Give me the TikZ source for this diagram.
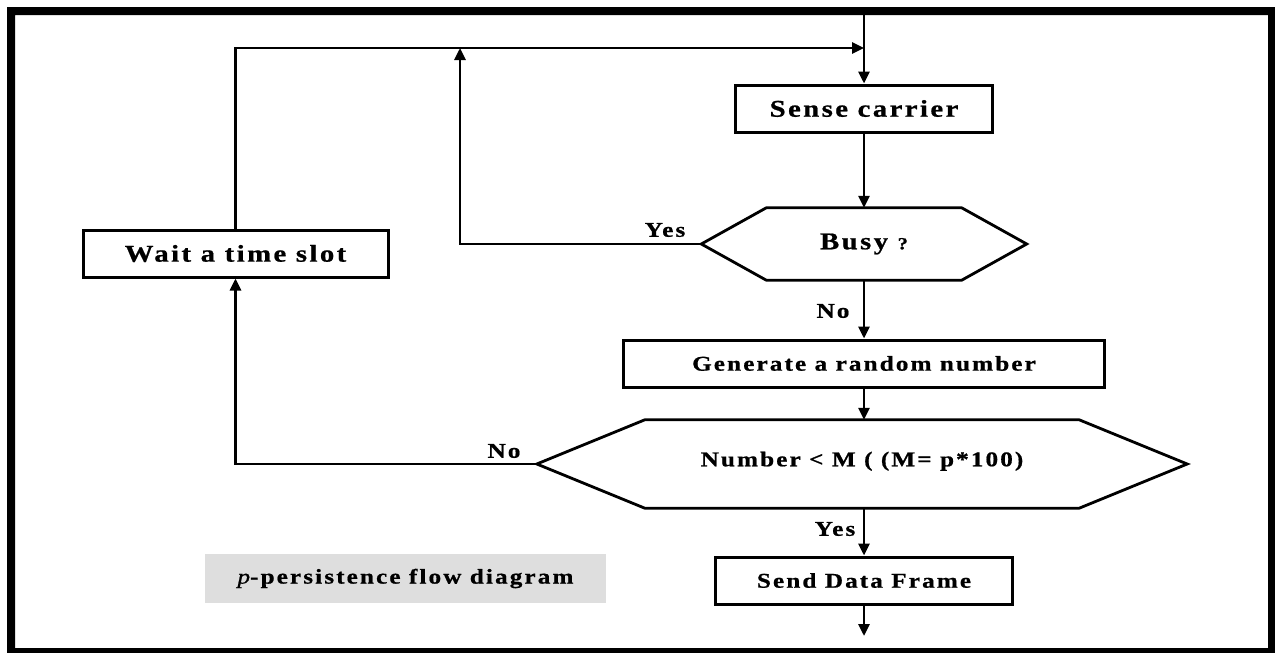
\documentclass[tikz,border=0pt]{standalone}
\usepackage{fontspec}
\setmainfont{Liberation Serif}
\newfontfamily\bigface[FakeStretch=1.2,LetterSpace=10,FakeBold=0.8]{Liberation Serif}
\newfontfamily\smallface[FakeStretch=1.2,LetterSpace=10,FakeBold=0.8]{Liberation Serif}
\usetikzlibrary{arrows.meta,calc}

\begin{document}
\begin{tikzpicture}[x=1pt,y=-1pt,
  flow/.style={line width=2.8pt,-{Triangle[length=12pt,width=11pt]}},
  procbox/.style={draw,line width=3pt,minimum height=47pt,inner sep=0pt},
  decision/.style={inner sep=0pt},
  hexline/.style={line width=2.8pt,line join=miter},
  bigtext/.style={font={\bigface\bfseries\fontsize{24}{28}\selectfont}},
  smalltext/.style={font={\smallface\bfseries\fontsize{21}{25}\selectfont}},
  caption/.style={fill=black!13,minimum width=401pt,minimum height=49pt,inner sep=0pt}
]
\useasboundingbox (0,0) rectangle (1275,653);

% outer frame
\fill[even odd rule] (7,7) rectangle (1275,653) (15,15) rectangle (1268,648);

% process boxes
\node[procbox,bigtext,minimum width=257pt] (sense) at (864,108.5) {Sense carrier};
\node[procbox,bigtext,minimum width=305pt] (wait) at (235.5,253.5) {Wait a time slot};
\node[procbox,smalltext,minimum width=481pt] (gen) at (864,363.5) {Generate a random number};
\node[procbox,smalltext,minimum width=297pt] (send) at (864,580.5) {Send Data Frame};

% decision: busy
\node[decision,bigtext,minimum width=195pt,minimum height=72pt] (busy) at (864,244)
  {Busy {\fontsize{17}{20}\selectfont ?}};
\coordinate (busyL) at ($(busy.west)+(-65,0)$);
\coordinate (busyR) at ($(busy.east)+(65,0)$);
\draw[hexline] (busy.north west) -- (busy.north east) -- (busyR)
  -- (busy.south east) -- (busy.south west) -- (busyL) -- cycle;

% decision: random number test
\node[decision,smalltext,minimum width=434pt,minimum height=88pt] (num) at (862,464)
  {\raisebox{10pt}{Number < M ( (M= p*100)}};
\coordinate (numL) at ($(num.west)+(-108,0)$);
\coordinate (numR) at ($(num.east)+(108,0)$);
\draw[hexline] (num.north west) -- (num.north east) -- (numR)
  -- (num.south east) -- (num.south west) -- (numL) -- cycle;

% branch labels
\node[smalltext] (yes1) at (665,230) {Yes};
\node[smalltext] (no1) at (833,311) {No};
\node[smalltext] (no2) at (504,451) {No};
\node[smalltext] (yes2) at (835,529) {Yes};

% caption
\node[caption,smalltext] (cap) at (405.5,578.5) {{\mdseries\itshape p}-persistence flow diagram};

% connectors
\coordinate (entry) at (864,15);
\coordinate (join) at (864,48);
\coordinate (fb) at (460,48);
\coordinate (exit) at (864,636);

\draw[flow] (entry) -- (sense.north);
\draw[flow] (wait.north) |- (join);
\draw[flow] (busyL) -| (fb);
\draw[flow] (sense.south) -- (busy.north);
\draw[flow] (busy.south) -- (gen.north);
\draw[flow] (gen.south) -- (gen.south |- num.north);
\draw[flow] (numL) -| (wait.south);
\draw[flow] (send.north |- num.south) -- (send.north);
\draw[flow] (send.south) -- (exit);
\end{tikzpicture}
\end{document}
